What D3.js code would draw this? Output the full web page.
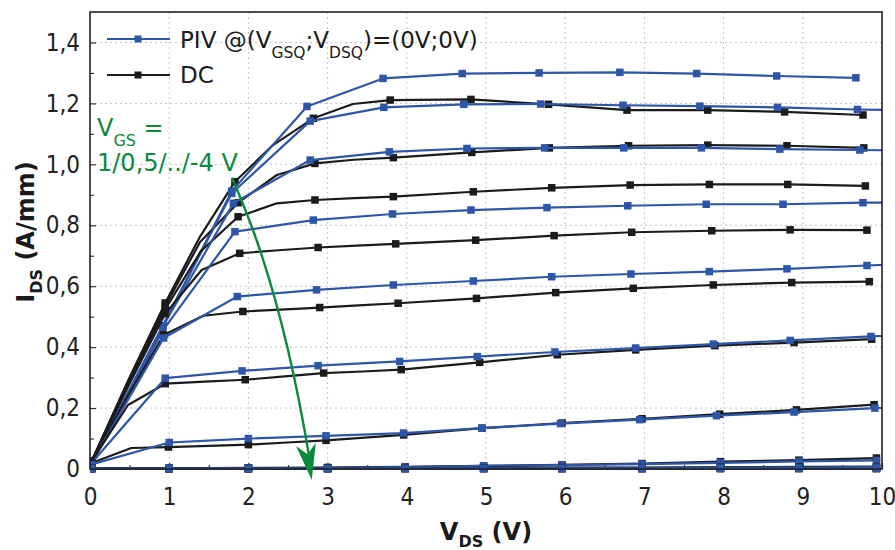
<!DOCTYPE html>
<html><head><meta charset="utf-8">
<script src="https://cdn.jsdelivr.net/npm/d3@7"></script>
<style>
body{margin:0;background:#fff}
svg{display:block}
text{font-family:"DejaVu Sans",Verdana,sans-serif}
.tick text{font-family:"DejaVu Sans Condensed","DejaVu Sans",sans-serif;font-stretch:condensed}
</style>
</head><body>
<svg id="chart" width="895" height="550"></svg>
<script>
// ---------- DATA ----------
const vgsLevels = [1, 0.5, 0, -0.5, -1, -1.5, -2, -2.5, -3, -3.5, -4];
const xTicks = [0,1,2,3,4,5,6,7,8,9,10];
const yTicks = [0,0.2,0.4,0.6,0.8,1.0,1.2,1.4];
const legendLabels = ["PIV", "DC"];

// PIV (pulsed) curves, one per VGS level
const pivVds = [
  [0.02,0.92,1.79,2.74,3.70,4.70,5.67,6.69,7.66,8.67,9.67],
  [0.02,0.92,1.79,2.78,3.71,4.72,5.69,6.73,7.70,8.68,9.69,10.70],
  [0.02,0.92,1.81,2.78,3.78,4.76,5.74,6.74,7.72,8.71,9.72,10.72],
  [0.02,0.92,1.83,2.82,3.82,4.81,5.77,6.79,7.78,8.75,9.76,10.76],
  [0.02,0.93,1.86,2.86,3.83,4.84,5.83,6.83,7.82,8.80,9.81,10.80],
  [0.02,0.95,1.92,2.88,3.91,4.89,5.87,6.89,7.87,8.84,9.86,10.86],
  [0.02,1.00,2.00,2.98,3.96,4.95,5.94,6.94,7.91,8.89,9.91,10.90],
  [0.02,1.00,2.00,3.00,3.98,4.97,5.96,6.97,7.96,8.95,9.93],
  [0.02,1.00,2.00,3.00,3.98,4.97,5.96,6.97,7.96,8.95,9.93],
  [0.02,1.00,2.00,3.00,3.98,4.97,5.96,6.97,7.96,8.95,9.93],
  [0.02,1.00,2.00,3.00,3.98,4.97,5.96,6.97,7.96,8.95,9.93]
];
const pivIds = [
  [0.02,0.470,0.912,1.190,1.282,1.298,1.300,1.302,1.298,1.290,1.284],
  [0.02,0.470,0.905,1.142,1.187,1.197,1.198,1.194,1.191,1.187,1.180,1.176],
  [0.02,0.468,0.872,1.014,1.041,1.052,1.054,1.054,1.054,1.050,1.047,1.044],
  [0.02,0.455,0.779,0.817,0.837,0.850,0.858,0.864,0.869,0.869,0.874,0.876],
  [0.02,0.430,0.566,0.588,0.604,0.617,0.631,0.640,0.648,0.657,0.668,0.679],
  [0.02,0.298,0.322,0.339,0.353,0.369,0.384,0.397,0.410,0.422,0.435,0.447],
  [0.015,0.087,0.100,0.109,0.118,0.134,0.149,0.162,0.175,0.187,0.200,0.212],
  [0.003,0.003,0.003,0.004,0.006,0.010,0.013,0.016,0.020,0.025,0.028],
  [0.002,0.002,0.002,0.002,0.003,0.003,0.004,0.004,0.005,0.005,0.006],
  [0.001,0.001,0.001,0.001,0.002,0.002,0.002,0.002,0.003,0.003,0.003],
  [0.001,0.001,0.001,0.001,0.001,0.001,0.001,0.001,0.002,0.002,0.002]
];

// DC curves, one per VGS level (half-volt points without markers in the knee)
const dcVds = [
  [0.02,0.48,0.95,1.39,1.83,2.31,2.82,3.32,3.79,4.81,5.79,6.78,7.80,8.77,9.76],
  [0.02,0.48,0.95,1.39,1.87,2.36,2.84,3.33,3.83,4.82,5.80,6.80,7.80,8.80,9.77],
  [0.02,0.48,0.95,1.40,1.87,2.36,2.84,3.34,3.83,4.84,5.83,6.82,7.82,8.81,9.79],
  [0.02,0.48,0.95,1.41,1.89,2.38,2.88,3.37,3.86,4.87,5.86,6.84,7.85,8.84,9.81],
  [0.02,0.48,0.93,1.43,1.93,2.41,2.90,3.39,3.89,4.88,5.88,6.86,7.87,8.86,9.84],
  [0.02,0.48,0.95,1.45,1.96,2.46,2.95,3.44,3.93,4.92,5.90,6.89,7.89,8.89,9.87],
  [0.02,0.52,0.99,1.50,2.00,2.49,2.98,3.47,3.96,4.95,5.96,6.97,7.95,8.92,9.90],
  [0.02,0.50,1.00,1.50,2.00,2.50,3.00,3.50,3.98,4.97,5.96,6.97,7.96,8.95,9.93],
  [0.02,0.50,1.00,1.50,2.00,2.50,3.00,3.50,3.98,4.97,5.96,6.97,7.96,8.95,9.93],
  [0.02,0.50,1.00,1.50,2.00,2.50,3.00,3.50,3.98,4.97,5.96,6.97,7.96,8.95,9.93],
  [0.02,0.50,1.00,1.50,2.00,2.50,3.00,3.50,3.98,4.97,5.96,6.97,7.96,8.95,9.93]
];
const dcIds = [
  [0.025,0.290,0.545,0.763,0.943,1.063,1.151,1.198,1.211,1.213,1.197,1.178,1.178,1.172,1.162],
  [0.025,0.285,0.535,0.745,0.874,0.965,1.003,1.015,1.022,1.039,1.054,1.061,1.063,1.061,1.054],
  [0.025,0.280,0.525,0.715,0.828,0.872,0.883,0.889,0.894,0.910,0.923,0.932,0.934,0.934,0.929],
  [0.025,0.270,0.510,0.653,0.708,0.718,0.727,0.733,0.739,0.751,0.766,0.777,0.782,0.785,0.784],
  [0.025,0.240,0.440,0.503,0.517,0.523,0.530,0.537,0.544,0.560,0.579,0.593,0.604,0.612,0.615],
  [0.025,0.210,0.280,0.287,0.293,0.304,0.315,0.320,0.326,0.350,0.375,0.391,0.405,0.415,0.426],
  [0.020,0.069,0.072,0.076,0.080,0.087,0.094,0.103,0.112,0.134,0.151,0.165,0.180,0.194,0.211],
  [0.003,0.003,0.003,0.003,0.004,0.004,0.005,0.006,0.007,0.010,0.014,0.018,0.024,0.029,0.036],
  [0.002,0.002,0.002,0.002,0.002,0.003,0.003,0.003,0.003,0.004,0.005,0.005,0.006,0.007,0.008],
  [0.001,0.001,0.001,0.001,0.001,0.001,0.002,0.002,0.002,0.002,0.002,0.002,0.003,0.003,0.003],
  [0.001,0.001,0.001,0.001,0.001,0.001,0.001,0.001,0.001,0.001,0.001,0.001,0.001,0.001,0.001]
];
const dcMarked = [1,0,1,0,1,0,1,0,1,1,1,1,1,1,1];

// annotation arrow (data units): start, control, end of the shaft; arrow tip
const arrowPath = [[1.79,0.956],[2.418,0.597],[2.778,0.023]];
const arrowTip = [2.80,-0.036];

// ---------- STYLE ----------
const BLUE = "#2d56a9", BLACK = "#1b1b1b", GREEN = "#0b8a3b";

const svg = d3.select("#chart");
const x = d3.scaleLinear().domain([0,10]).range([90,882]);
const y = d3.scaleLinear().domain([0,1.5]).range([469,12]);

// grid
const grid = svg.append("g").attr("stroke","#c4c4c4").attr("stroke-width",1).attr("stroke-dasharray","2,3");
xTicks.filter(d=>d>0&&d<10).forEach(d=>{
  grid.append("line").attr("x1",x(d)).attr("x2",x(d)).attr("y1",y(0)).attr("y2",y(1.5));
});
yTicks.filter(d=>d>0).forEach(d=>{
  grid.append("line").attr("x1",x(0)).attr("x2",x(10)).attr("y1",y(d)).attr("y2",y(d));
});

// axes
const fmt = d => d===0 ? "0" : d3.format(".1f")(d).replace(".", ",");
const xAxis = svg.append("g").attr("transform",`translate(0,${y(0)})`)
  .call(d3.axisBottom(x).tickValues(xTicks).tickSizeInner(-6).tickSizeOuter(0).tickPadding(19).tickFormat(d=>d));
const xMinor = svg.append("g").attr("transform",`translate(0,${y(0)})`)
  .call(d3.axisBottom(x).tickValues(d3.range(0.5,10,1)).tickSizeInner(-4).tickSizeOuter(0).tickFormat(""));
const yAxis = svg.append("g").attr("transform",`translate(${x(0)},0)`)
  .call(d3.axisLeft(y).tickValues(yTicks).tickSizeInner(-6).tickSizeOuter(0).tickPadding(10).tickFormat(fmt));
const yMinor = svg.append("g").attr("transform",`translate(${x(0)},0)`)
  .call(d3.axisLeft(y).tickValues(d3.range(0.1,1.5,0.2)).tickSizeInner(-4).tickSizeOuter(0).tickFormat(""));
[xAxis,xMinor,yAxis,yMinor].forEach(g=>{
  g.select(".domain").remove();
  g.selectAll("line").attr("stroke","#333").attr("stroke-width",1.2);
  g.selectAll("text").attr("font-size",24).attr("fill","#222")
    .attr("font-family","DejaVu Sans Condensed, DejaVu Sans, sans-serif");
});

// clip
svg.append("clipPath").attr("id","clip").append("rect")
  .attr("x",x(0)).attr("y",y(1.5)).attr("width",x(10)-x(0)).attr("height",y(0)-y(1.5)+6);

const plot = svg.append("g").attr("clip-path","url(#clip)");
const line = d3.line().x(d=>x(d[0])).y(d=>y(d[1]));
const MS = 7.5;

vgsLevels.forEach((v,i)=>{
  const dcPts = dcVds[i].map((vd,j)=>[vd, dcIds[i][j], dcMarked[j]]);
  plot.append("path").datum(dcPts).attr("d",line).attr("fill","none")
    .attr("stroke",BLACK).attr("stroke-width",2.2).attr("stroke-linejoin","round");
  plot.selectAll(null).data(dcPts.filter(d=>d[2])).enter().append("rect")
    .attr("x",d=>x(d[0])-MS/2).attr("y",d=>y(d[1])-MS/2).attr("width",MS).attr("height",MS)
    .attr("fill",BLACK);
  const pPts = pivVds[i].map((vd,j)=>[vd, pivIds[i][j]]);
  plot.append("path").datum(pPts).attr("d",line).attr("fill","none")
    .attr("stroke",BLUE).attr("stroke-width",2.2).attr("stroke-linejoin","round");
  plot.selectAll(null).data(pPts).enter().append("rect")
    .attr("x",d=>x(d[0])-MS/2).attr("y",d=>y(d[1])-MS/2).attr("width",MS).attr("height",MS)
    .attr("fill",BLUE);
});

// frame
svg.append("rect").attr("x",x(0)).attr("y",y(1.5)).attr("width",x(10)-x(0)).attr("height",y(0)-y(1.5))
  .attr("fill","none").attr("stroke","#222").attr("stroke-width",1.6);

// legend
const leg = svg.append("g");
[[BLUE,39],[BLACK,75]].forEach(c=>{
  leg.append("line").attr("x1",107).attr("x2",170).attr("y1",c[1]).attr("y2",c[1]).attr("stroke",c[0]).attr("stroke-width",2.2);
  leg.append("rect").attr("x",138-3.5).attr("y",c[1]-3.5).attr("width",7).attr("height",7).attr("fill",c[0]);
});
const t1 = leg.append("text").attr("x",180).attr("y",48).attr("font-size",23).attr("fill","#1a1a1a");
t1.append("tspan").text(legendLabels[0]+" @(V");
t1.append("tspan").attr("font-size",15.5).attr("dy",10).text("GSQ");
t1.append("tspan").attr("dy",-10).text(";V");
t1.append("tspan").attr("font-size",15.5).attr("dy",10).text("DSQ");
t1.append("tspan").attr("dy",-10).text(")=(0V;0V)");
leg.append("text").attr("x",180).attr("y",83).attr("font-size",23).attr("fill","#1a1a1a").text(legendLabels[1]);

// annotation
const an = svg.append("g").attr("fill",GREEN);
const a1 = an.append("text").attr("x",97).attr("y",136).attr("font-size",24);
a1.append("tspan").text("V");
a1.append("tspan").attr("font-size",16).attr("dy",10).text("GS");
a1.append("tspan").attr("dy",-10).text(" =");
an.append("text").attr("x",97).attr("y",171).attr("font-size",24).text("1/0,5/../-4 V");

const p0 = arrowPath.map(d=>[x(d[0]),y(d[1])]);
svg.append("path").attr("d",`M${p0[0][0]},${p0[0][1]} Q${p0[1][0]},${p0[1][1]} ${p0[2][0]},${p0[2][1]}`)
  .attr("fill","none").attr("stroke",GREEN).attr("stroke-width",2.4);
const T = [x(arrowTip[0]), y(arrowTip[1])];
const dx = p0[2][0]-p0[1][0], dy = p0[2][1]-p0[1][1], L = Math.hypot(dx,dy);
const u = [dx/L, dy/L], n = [u[1], -u[0]];
const B = [T[0]-36*u[0], T[1]-36*u[1]];
const N = [T[0]-26*u[0], T[1]-26*u[1]];
svg.append("path").attr("d",`M${T[0]},${T[1]} L${B[0]+10*n[0]},${B[1]+10*n[1]} L${N[0]},${N[1]} L${B[0]-10*n[0]},${B[1]-10*n[1]} Z`)
  .attr("fill",GREEN);

// axis titles
const yl = svg.append("text").attr("transform",`translate(34,232) rotate(-90)`).attr("text-anchor","middle")
  .attr("font-size",24).attr("font-weight","bold").attr("fill","#1a1a1a");
yl.append("tspan").text("I");
yl.append("tspan").attr("font-size",16).attr("dy",8).text("DS");
yl.append("tspan").attr("dy",-8).text(" (A/mm)");
const xl = svg.append("text").attr("x",486).attr("y",540).attr("text-anchor","middle")
  .attr("font-size",24).attr("font-weight","bold").attr("fill","#1a1a1a");
xl.append("tspan").text("V");
xl.append("tspan").attr("font-size",16).attr("dy",7).text("DS");
xl.append("tspan").attr("dy",-7).text(" (V)");
</script>
</body></html>
